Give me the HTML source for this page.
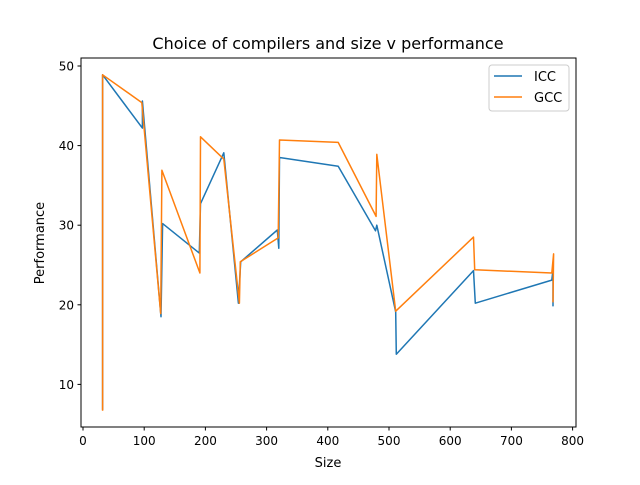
<!DOCTYPE html>
<html><head><meta charset="utf-8"><style>
body{margin:0;background:#fff}
svg text{font-family:"DejaVu Sans","Liberation Sans",sans-serif;fill:#000}
</style></head><body>
<svg id="chart" width="640" height="480" xmlns="http://www.w3.org/2000/svg">
<rect width="640" height="480" fill="#fff"/>
<text x="328" y="49" font-size="16" text-anchor="middle">Choice of compilers and size v performance</text>
<g id="plot"></g>
<rect x="81" y="58" width="495" height="369" fill="none" stroke="#000" stroke-width="1"/>
<text x="328" y="467" font-size="13" text-anchor="middle">Size</text>
<text x="44" y="243" font-size="13" text-anchor="middle" transform="rotate(-90 44 243)">Performance</text>
<g>
<rect x="489" y="65" width="80" height="46" rx="3" fill="#fff" stroke="#ccc"/>
<line x1="494" y1="76" x2="522" y2="76" stroke="#1f77b4" stroke-width="1.5"/>
<text x="534" y="81" font-size="13">ICC</text>
<line x1="494" y1="97" x2="522" y2="97" stroke="#ff7f0e" stroke-width="1.5"/>
<text x="534" y="102" font-size="13">GCC</text>
</g>
</svg>
<script>
const xTicks=[0,100,200,300,400,500,600,700,800];
const yTicks=[10,20,30,40,50];
const iccSize=[32,32,97,97,127.5,130,190,192,230,254,257.7,317.5,320,321,417,478,480,511,512,638,641,766,768,768];
const iccPerf=[6.8,48.9,42.2,45.6,18.5,30.2,26.5,32.7,39.1,20.2,25.4,29.4,27.1,38.5,37.4,29.3,30.0,19.1,13.8,24.3,20.2,23.1,24.4,19.8];
const gccSize=[32,32,96,127,129,191,192,230,255.5,257,319,321,417,479,480,511,638,640,766,769,768];
const gccPerf=[6.7,48.9,45.4,18.9,36.9,24.0,41.1,38.3,20.2,25.4,28.4,40.7,40.4,31.1,38.9,19.2,28.5,24.4,24.0,26.4,20.3];
const xs=v=>83+v*0.612;
const ys=v=>66+(50-v)*7.96;
const NS='http://www.w3.org/2000/svg';
const plot=document.getElementById('plot');
function mk(t,a){const e=document.createElementNS(NS,t);for(const k in a)e.setAttribute(k,a[k]);plot.appendChild(e);return e;}
xTicks.forEach(t=>{
  const l=mk('line',{x1:xs(t),x2:xs(t),y1:427,y2:430.5,stroke:'#000'});
  
  
  const tx=mk('text',{x:xs(t),y:445,'font-size':'12','text-anchor':'middle'});
  tx.textContent=t;
  
  
});
yTicks.forEach(t=>{
  const l=mk('line',{x1:77.5,x2:81,y1:ys(t),y2:ys(t),stroke:'#000'});
  
  
  const tx=mk('text',{x:74,y:ys(t)+4.5,'font-size':'12','text-anchor':'end'});
  tx.textContent=t;
  
  
});
function series(sz,pf,color,name){
  const pts=sz.map((s,i)=>xs(s).toFixed(1)+','+ys(pf[i]).toFixed(1)).join(' ');
  const p=mk('polyline',{points:pts,fill:'none',stroke:color,'stroke-width':'1.5','stroke-linejoin':'round'});
  
  
}
series(iccSize,iccPerf,'#1f77b4','icc-line');
series(gccSize,gccPerf,'#ff7f0e','gcc-line');
</script>
</body></html>
